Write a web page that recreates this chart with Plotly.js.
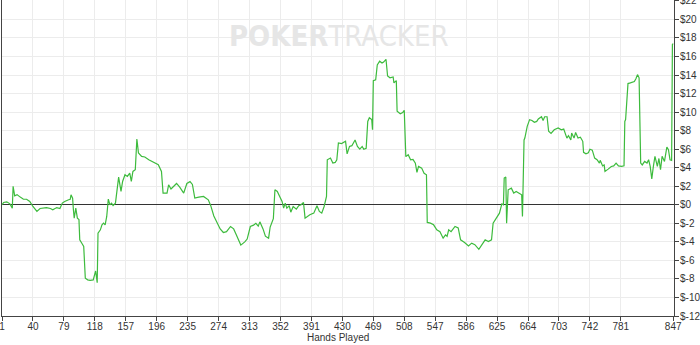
<!DOCTYPE html>
<html>
<head>
<meta charset="utf-8">
<script src="https://cdn.plot.ly/plotly-3.0.1.min.js"></script>
<style>
html,body{margin:0;padding:0;background:#fff;}
#chart{width:700px;height:345px;}
</style>
</head>
<body>
<div id="chart"></div>
<script>
// Hands played (x) and cumulative winnings in $ (y)
const hands = [1,3,7,11,14,15,17,20,24,28,32,36,40,45,49,53,57,62,65,70,74,77,80,85,87,88,90,91,92,94,96,98,99,102,104,106,109,112,116,119,121,122,125,127,129,131,133,135,137,139,141,144,146,148,151,153,156,159,162,164,166,169,171,173,177,181,186,190,194,198,202,204,209,211,214,217,221,225,230,234,238,241,244,249,255,261,264,268,272,276,280,284,289,293,296,299,302,307,310,314,318,321,324,326,330,333,337,339,343,345,348,351,354,356,358,360,363,365,368,372,375,378,381,383,386,389,394,398,401,404,407,410,411,415,418,421,423,425,429,431,434,436,439,442,446,449,452,455,457,460,462,464,467,468,469,472,474,477,480,482,485,487,490,494,495,498,499,503,506,508,510,513,516,519,522,524,526,530,533,536,537,541,545,549,553,557,560,562,564,567,572,576,579,584,589,593,597,602,606,610,614,618,620,623,626,628,631,633,634,636,637,639,643,646,649,652,656,657,659,660,663,666,669,672,675,677,681,683,685,688,690,693,697,702,706,709,711,713,715,718,719,722,724,727,730,733,734,737,740,742,745,748,751,754,755,758,760,761,765,769,772,775,778,782,785,786,787,790,793,796,798,800,802,804,806,808,811,814,816,818,820,822,824,827,829,831,833,836,839,841,843,845,846,847];
const profit = [0,0.25,0.32,0.1,-0.36,2.0,0.97,1.1,0.83,0.6,0.6,0.36,-0.18,-0.72,-0.4,-0.33,-0.3,-0.4,-0.54,-0.3,-0.4,0.18,0.36,0.54,0.6,1.08,0.72,-0.54,-1.44,-0.36,-1.44,-1.6,-3.78,-4.2,-4.5,-7.93,-8.1,-8.15,-8.1,-7.14,-8.4,-3.06,-2.7,-2.16,-1.98,-2.16,-1.26,0.61,0,0.18,-0.07,0.18,1.62,2.99,1.44,2.52,3.24,3.06,3.42,2.52,3.6,3.78,7.1,5.59,5.23,5.16,4.87,4.7,4.5,4.32,3.6,1.26,1.26,2.16,1.7,2.0,2.3,1.9,1.26,2.3,2.5,2.2,0.72,0.83,0.9,0.54,-0.07,-1.2,-1.9,-2.6,-2.99,-2.9,-2.34,-2.6,-3.18,-3.7,-4.35,-4.0,-3.7,-2.34,-2.2,-2.0,-2.3,-1.84,-2.6,-3.39,-3.6,-2.4,-1.5,1.62,1.44,0.9,0.36,-0.36,0.18,-0.36,-0.1,-0.8,-0.18,-0.47,-0.1,0,0.25,-1.44,-1.26,-1.08,-0.9,-0.1,-0.72,-0.9,-0.18,0.9,4.86,5.04,4.5,4.57,4.86,6.67,6.6,6.7,6.85,5.5,6.3,6.38,7.0,6.3,6.0,6.3,6.0,6.1,9.0,9.4,9.2,8.1,13.4,13.5,15.1,15.5,15.3,15.4,15.7,13.9,13.7,13.8,13.15,13.4,10.1,9.83,9.95,10.2,5.2,5.4,4.86,4.9,4.5,3.5,4.14,3.96,3.4,3.24,-1.9,-1.98,-2.16,-2.7,-2.9,-3.6,-3.24,-3.4,-2.7,-2.9,-2.34,-2.5,-3.78,-4.07,-4.43,-4.14,-4.3,-4.8,-4.3,-3.78,-3.96,-3.78,-1.98,-1.62,-1.26,-0.9,0.1,0,2.88,3.0,-1.98,1.62,1.8,1.26,1.44,1.26,1.08,-1.26,7.0,7.2,8.47,9.19,9.1,8.9,9.0,9.26,9.5,9.1,9.5,9.5,7.93,7.7,8.1,8.3,8.1,8.17,7.75,7.2,7.46,7.0,7.75,7.2,7.8,7.2,7.3,6.85,5.66,5.5,5.6,6.0,5.9,5.04,4.86,4.5,4.8,4.2,4.3,3.6,3.85,4.14,4.2,4.5,4.2,4.14,4.2,9.0,9.2,13.08,13.15,13.26,13.3,13.6,14.05,13.7,4.5,4.3,4.68,4.5,4.86,4.14,2.8,4.14,5.23,4.14,5.0,3.78,5.23,4.68,6.23,5.95,4.86,4.8,17.3,17.4];

const xTickVals = [1,40,79,118,157,196,235,274,313,352,391,430,469,508,547,586,625,664,703,742,781,847];
const yTickVals = [-12,-10,-8,-6,-4,-2,0,2,4,6,8,10,12,14,16,18,20,22];
const yTickText = yTickVals.map(v => '$' + v);

const axisFont = {family: 'Liberation Sans, Arial, sans-serif', size: 10, color: '#333'};

const trace = {
  x: hands, y: profit, type: 'scatter', mode: 'lines',
  line: {color: '#3dbb3d', width: 1.2},
  hoverinfo: 'skip'
};

const layout = {
  width: 700, height: 345,
  margin: {l: 2, r: 26, t: 0, b: 29},
  paper_bgcolor: '#ffffff', plot_bgcolor: '#ffffff',
  showlegend: false,
  xaxis: {
    range: [1, 848], tickvals: xTickVals, ticktext: xTickVals.map(String),
    showgrid: true, gridcolor: '#ececec', gridwidth: 1,
    showline: true, linecolor: '#444', linewidth: 1,
    ticks: 'outside', ticklen: 4, tickcolor: '#444',
    tickfont: axisFont, ticklabeloverflow: 'allow', ticklabelstandoff: -3,
    zeroline: false, fixedrange: true, automargin: false
  },
  yaxis: {
    side: 'right', range: [-12, 22.1], tickvals: yTickVals, ticktext: yTickText,
    showgrid: true, gridcolor: '#ececec', gridwidth: 1,
    showline: true, mirror: true, linecolor: '#444', linewidth: 1,
    ticks: 'outside', ticklen: 4, tickcolor: '#444',
    tickfont: axisFont, ticklabeloverflow: 'allow', ticklabelstandoff: -1,
    zeroline: true, zerolinecolor: '#333', zerolinewidth: 1, fixedrange: true, automargin: false
  },
  annotations: [
    {text: 'Hands Played', xref: 'paper', yref: 'paper', x: 0.5, y: -0.068,
     xanchor: 'center', yanchor: 'middle', showarrow: false, font: axisFont},
    {text: '<b>POKER</b>TRACKER', xref: 'paper', yref: 'paper', x: 0.5015, y: 0.885,
     xanchor: 'center', yanchor: 'middle', showarrow: false,
     font: {family: 'Liberation Sans Narrow, DejaVu Sans Condensed, Arial, sans-serif', size: 29, color: '#e6e6e6'}}
  ]
};

Plotly.newPlot('chart', [trace], layout, {displayModeBar: false, staticPlot: true});
</script>
</body>
</html>
